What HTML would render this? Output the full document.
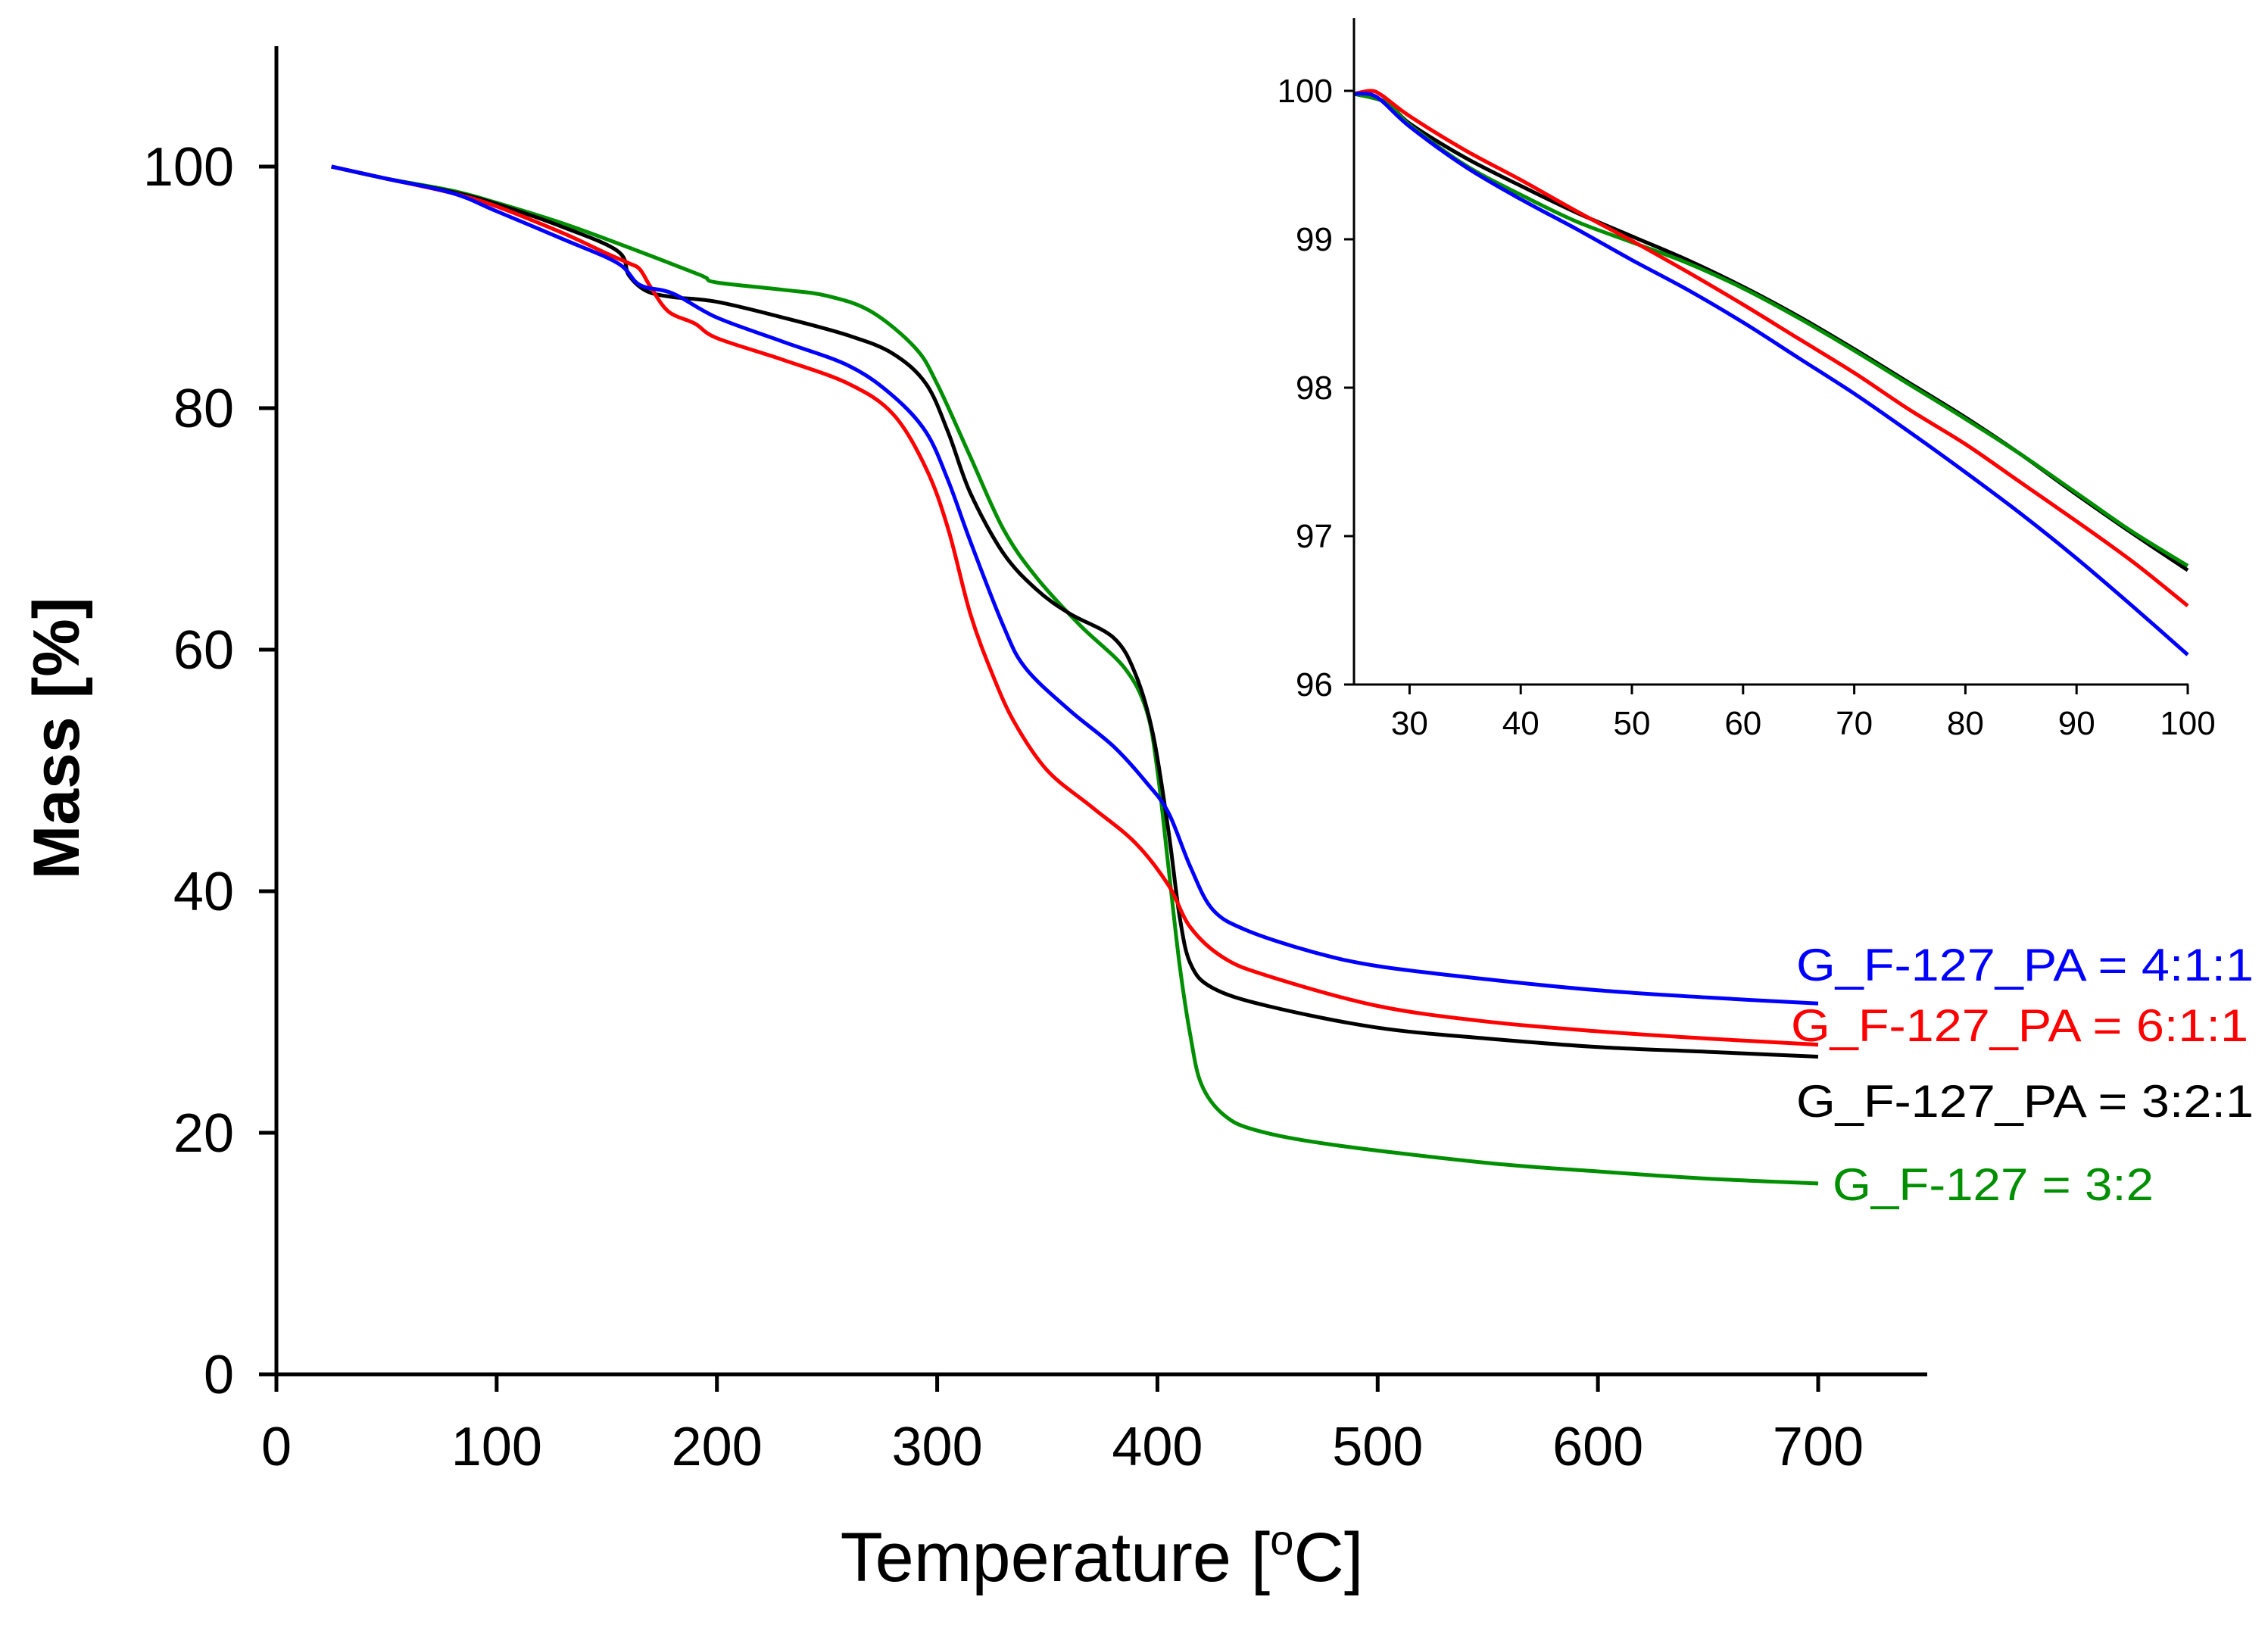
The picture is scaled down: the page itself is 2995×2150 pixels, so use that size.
<!DOCTYPE html>
<html><head><meta charset="utf-8"><style>
html,body{margin:0;padding:0;background:#fff;}
svg{display:block;font-family:"Liberation Sans",Arial,sans-serif;}
</style></head><body>
<svg id="chart" width="2995" height="2150" viewBox="0 0 2995 2150" xmlns="http://www.w3.org/2000/svg">
<g id="main"></g>
<g id="inset"></g>
</svg>
<script>
// ---- main chart data ----
const xTicks = [0,100,200,300,400,500,600,700];
const yTicks = [0,20,40,60,80,100];
const blueT = [25,50,80,100,130,155,165,180,200,230,260,280,295,305,315,330,340,360,380,395,405,415,425,440,470,500,550,600,650,700];
const blueM = [100,99,97.8,96.3,94,92,90.2,89.5,87.5,85.5,83.5,81,78,74,69,62,58.5,55,52,49,46.5,42,38.5,36.8,35,33.8,32.7,31.8,31.2,30.7];
const redT = [25,50,80,100,130,150,160,165,170,178,190,200,230,260,280,295,305,315,325,335,350,370,390,405,415,430,450,500,550,600,650,700];
const redM = [100,99,97.8,96.7,94.5,92.8,92,91.5,90,88,87,85.8,84,82,79.5,75,70,63,58,54,50,47,44,40.5,37,34.5,33,30.5,29.2,28.4,27.8,27.3];
const blackT = [25,50,80,100,130,155,160,168,180,200,230,260,280,295,305,315,330,345,360,380,390,398,405,410,415,425,450,500,550,600,650,700];
const blackM = [100,99,97.9,96.9,95,93,91,89.7,89.2,88.8,87.5,86,84.5,82,78,73,68,65,63,61,58,53,45,38,34,32,30.5,28.7,27.8,27.1,26.7,26.3];
const greenT = [25,50,80,100,130,160,190,195,200,230,250,270,290,300,315,330,345,365,385,395,400,405,410,415,420,430,445,480,550,600,650,700];
const greenM = [100,99,98,97,95.3,93.3,91.2,90.8,90.4,89.8,89.3,88,85,82,76,70,66,62,58.5,55,50,42,34,28,24,21.5,20.2,19,17.5,16.8,16.2,15.8];
const legendLabels = ["G_F-127_PA = 4:1:1","G_F-127_PA = 6:1:1","G_F-127_PA = 3:2:1","G_F-127 = 3:2"];
// ---- inset data ----
const insetXTicks = [30,40,50,60,70,80,90,100];
const insetYTicks = [96,97,98,99,100];
const iT = [25,28,30,35,40,45,50,55,60,65,70,75,80,85,90,95,100];
const iBlack = [99.98,99.92,99.78,99.55,99.36,99.18,99.02,98.86,98.68,98.48,98.26,98.03,97.8,97.55,97.28,97.02,96.77];
const iGreen = [99.98,99.92,99.77,99.5,99.3,99.12,98.98,98.84,98.67,98.47,98.25,98.02,97.79,97.55,97.29,97.03,96.8];
const iRedT = [25,26.5,27.5,30,35,40,45,50,55,60,65,70,75,80,85,90,95,100];
const iRed = [99.98,100,99.97,99.83,99.6,99.4,99.19,98.99,98.78,98.56,98.33,98.1,97.85,97.62,97.36,97.1,96.83,96.53];
const iBlueT = [25,27,30,35,40,45,50,55,60,65,70,75,80,85,90,95,100];
const iBlue = [99.98,99.96,99.76,99.49,99.27,99.07,98.86,98.66,98.44,98.2,97.96,97.7,97.43,97.15,96.85,96.53,96.2];

const NS="http://www.w3.org/2000/svg";
function mk(parent,tag,attrs,text){const e=document.createElementNS(NS,tag);for(const k in attrs)e.setAttribute(k,attrs[k]);if(text!==undefined)e.textContent=text;parent.appendChild(e);return e;}
const X=t=>365+(t-0)*(2401-365)/700;
const Y=m=>1815-m*(1815-220)/100;
const main=document.getElementById('main');
function smoothPath(pts){
  let d='M'+pts[0][0].toFixed(1)+','+pts[0][1].toFixed(1);
  for(let i=0;i<pts.length-1;i++){
    const p0=pts[i-1]||pts[i],p1=pts[i],p2=pts[i+1],p3=pts[i+2]||p2;
    const c1=[p1[0]+(p2[0]-p0[0])/6,p1[1]+(p2[1]-p0[1])/6];
    const c2=[p2[0]-(p3[0]-p1[0])/6,p2[1]-(p3[1]-p1[1])/6];
    d+=' C'+c1[0].toFixed(1)+','+c1[1].toFixed(1)+' '+c2[0].toFixed(1)+','+c2[1].toFixed(1)+' '+p2[0].toFixed(1)+','+p2[1].toFixed(1);
  }
  return d;
}
function series(g,xs,ys,sx,sy,color,name,w){
  const pts=xs.map((v,i)=>[sx(v),sy(ys[i])]);
  const p=mk(g,'path',{d:smoothPath(pts),fill:'none',stroke:color,'stroke-width':w,'stroke-linejoin':'round'});
  
  
}
series(main,greenT,greenM,X,Y,'#008f00','series-g-f127-3-2',5);
series(main,blackT,blackM,X,Y,'#000','series-3-2-1',5);
series(main,redT,redM,X,Y,'#ff0000','series-6-1-1',5);
series(main,blueT,blueM,X,Y,'#0000ff','series-4-1-1',5);
let ax=mk(main,'line',{x1:365,y1:61,x2:365,y2:1815,stroke:'#000','stroke-width':5});

ax=mk(main,'line',{x1:363,y1:1815,x2:2545,y2:1815,stroke:'#000','stroke-width':5});

xTicks.forEach(t=>{
  mk(main,'line',{x1:X(t),y1:1815,x2:X(t),y2:1838,stroke:'#000','stroke-width':5});
  const l=mk(main,'text',{x:X(t),y:1935,'font-size':72,'text-anchor':'middle'},String(t));
  
});
yTicks.forEach(m=>{
  mk(main,'line',{x1:342,y1:Y(m),x2:365,y2:Y(m),stroke:'#000','stroke-width':5});
  const l=mk(main,'text',{x:309,y:Y(m)+25,'font-size':72,'text-anchor':'end'},String(m));
  
});
let t=mk(main,'text',{x:0,y:0,'font-size':86,'font-weight':'bold','text-anchor':'middle',transform:'translate(104,975) rotate(-90)'},'Mass [%]');

t=mk(main,'text',{x:1455,y:2088,'font-size':92,'text-anchor':'middle'});

t.innerHTML='Temperature [<tspan font-size="56" dy="-35">o</tspan><tspan dy="35">C]</tspan>';
const legPos=[[2372,1295,'#0000ff',604],[2365,1375,'#ff0000',604],[2372,1475,'#000',604],[2420,1585,'#008f00',424]];
legendLabels.forEach((s,i)=>{
  const e=mk(main,'text',{x:legPos[i][0],y:legPos[i][1],'font-size':60,fill:legPos[i][2],textLength:legPos[i][3],lengthAdjust:'spacingAndGlyphs'},s);
  
});
const IX=v=>1788+(v-25)*(2889-1788)/75;
const IY=v=>904-(v-96)*(904-120)/4;
const ins=document.getElementById('inset');
series(ins,iT,iBlack,IX,IY,'#000','inset-series-3-2-1',5);
series(ins,iT,iGreen,IX,IY,'#008f00','inset-series-g-f127-3-2',5);
series(ins,iRedT,iRed,IX,IY,'#ff0000','inset-series-6-1-1',5);
series(ins,iBlueT,iBlue,IX,IY,'#0000ff','inset-series-4-1-1',5);
ax=mk(ins,'line',{x1:1788,y1:24,x2:1788,y2:905,stroke:'#000','stroke-width':3});

ax=mk(ins,'line',{x1:1787,y1:904,x2:2890,y2:904,stroke:'#000','stroke-width':3});

insetXTicks.forEach(v=>{
  mk(ins,'line',{x1:IX(v),y1:904,x2:IX(v),y2:917,stroke:'#000','stroke-width':3});
  const l=mk(ins,'text',{x:IX(v),y:970,'font-size':44,'text-anchor':'middle'},String(v));
  
});
insetYTicks.forEach(v=>{
  mk(ins,'line',{x1:1775,y1:IY(v),x2:1788,y2:IY(v),stroke:'#000','stroke-width':3});
  const l=mk(ins,'text',{x:1760,y:IY(v)+15,'font-size':44,'text-anchor':'end'},String(v));
  
});
</script>
</body></html>
